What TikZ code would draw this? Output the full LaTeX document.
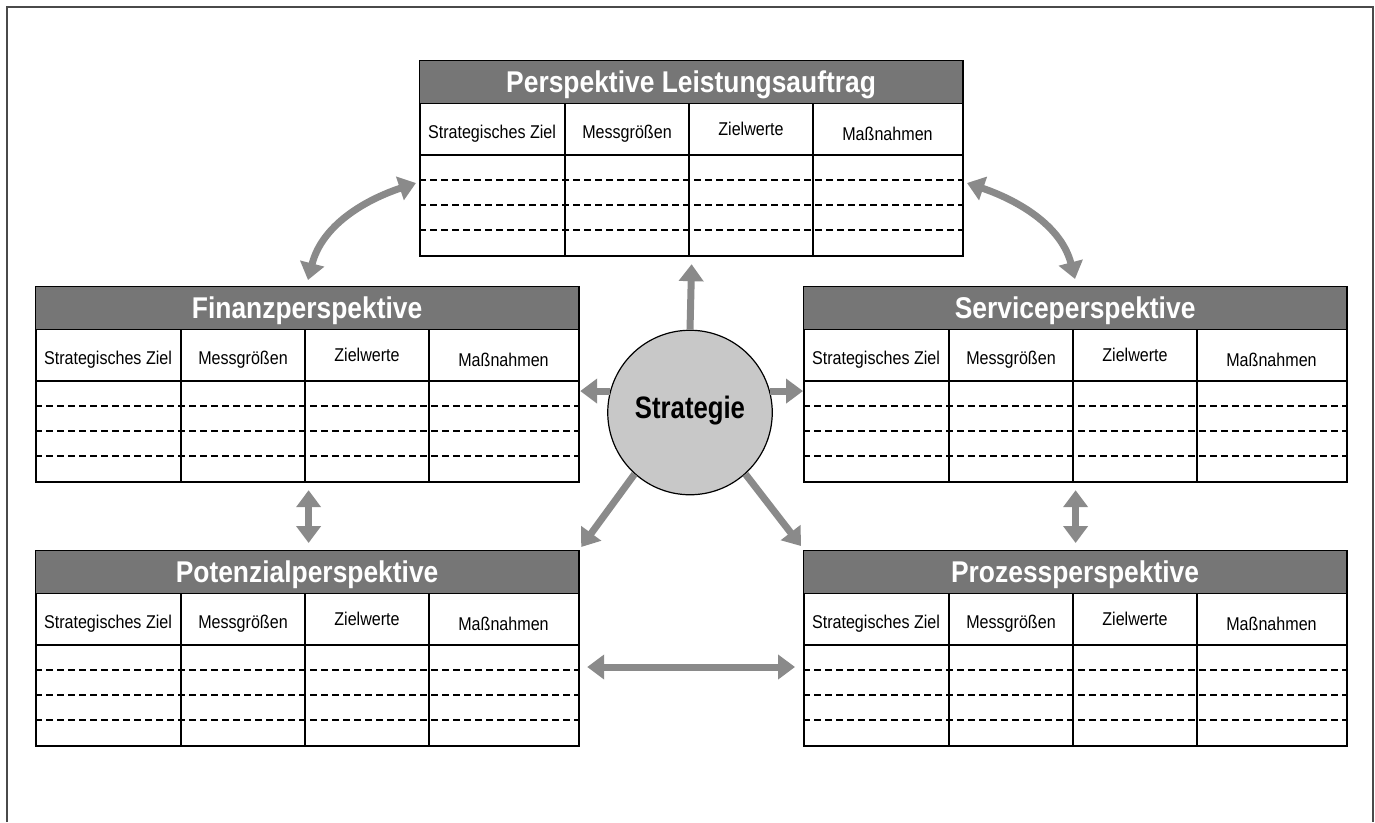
\documentclass[tikz,border=0pt]{standalone}
\usepackage{fontspec}
\setmainfont{Liberation Sans}
\newfontfamily\cellfont[FakeStretch=0.87]{Liberation Sans}
\newfontfamily\headfont[FakeStretch=0.88]{Liberation Sans}
\newfontfamily\stratfont[FakeStretch=0.83]{Liberation Sans}
\usetikzlibrary{arrows.meta,positioning,calc}
\definecolor{Bar}{HTML}{767676}
\definecolor{ArrowGray}{HTML}{8A8A8A}
\definecolor{Disc}{HTML}{C8C8C8}
\definecolor{FrameGray}{HTML}{4A4A4A}
\tikzset{
  tabframe/.style={draw=black,line width=2.2pt,minimum width=543pt,minimum height=195pt,inner sep=0pt},
  tabhead/.style={draw=black,line width=1.2pt,fill=Bar,minimum width=543pt,minimum height=43pt,inner sep=0pt,
    text=white,text depth=0pt,font=\headfont\bfseries\fontsize{30}{32}\selectfont},
  cell/.style={inner sep=0pt,text depth=0pt,text height=13.5pt,font=\cellfont\fontsize{18.5}{20}\selectfont},
  rowsep/.style={line width=1.6pt},
  rowdash/.style={line width=1.6pt,dash pattern=on 7pt off 4pt},
  colsep/.style={line width=2pt},
  arr/.style={-{Triangle[length=17pt,width=24pt]},line width=7pt,draw=ArrowGray},
  dblarr/.style={{Triangle[length=17pt,width=24pt]}-{Triangle[length=17pt,width=24pt]},line width=7pt,draw=ArrowGray},
  strat/.style={circle,draw=black,line width=1.2pt,fill=Disc,minimum size=164.5pt,inner sep=0pt,
    text depth=9.6pt,font=\stratfont\bfseries\fontsize{31}{33}\selectfont},
  frame/.style={draw=FrameGray,line width=2pt}
}
% one perspective table: name, x, y (top left), title
\newcommand{\bsctab}[4]{%
  \node[tabframe,anchor=north west] (#1) at (#2,#3) {};
  \node[tabhead,anchor=north west] (#1-head) at (#1.north west) {#4};
  \foreach \dx in {146,270,394}
    \draw[colsep] ($(#1.north west)+(\dx,43)$) -- ($(#1.north west)+(\dx,195)$);
  \draw[rowsep] ($(#1.north west)+(0,95)$) -- ($(#1.north east)+(0,95)$);
  \foreach \dy in {120,145,170}
    \draw[rowdash] ($(#1.north west)+(0,\dy)$) -- ($(#1.north east)+(0,\dy)$);
  \node[cell] (#1-ziel) at ($(#1.north west)+(73,72)$) {Strategisches Ziel};
  \node[cell] (#1-mess) at ($(#1.north west)+(208,72)$) {Messgrößen};
  \node[cell] (#1-wert) at ($(#1.north west)+(332,69)$) {Zielwerte};
  \node[cell] (#1-mass) at ($(#1.north west)+(468.5,74)$) {Maßnahmen};
}

\begin{document}
\begin{tikzpicture}[x=1pt,y=-1pt]
  \useasboundingbox (0,0) rectangle (1375,822);
  \draw[frame] (7,822) -- (7,7) -- (1373,7) -- (1373,822);

  \bsctab{top}{419}{60}{Perspektive Leistungsauftrag}
  \bsctab{fin}{35}{286}{Finanzperspektive}
  \bsctab{srv}{803}{286}{Serviceperspektive}
  \bsctab{pot}{35}{550}{Potenzialperspektive}
  \bsctab{pro}{803}{550}{Prozessperspektive}

  \node[strat] (str) at (690,412.5) {Strategie};

  % arrows out of the strategy
  \coordinate (upTip) at ($(top.south)+(0,7)$);
  \draw[arr] (str.north) -- (upTip);
  \draw[arr] (str.165) -- (str.165 -| fin.east);
  \draw[arr] (str.15) -- (str.15 -| srv.west);
  \draw[arr] (str.228) -- ($(pot.north east)+(1,-3)$);
  \draw[arr] (str.312) -- ($(pro.north west)+(-2,-4)$);

  % links between perspectives
  \draw[dblarr] ($(fin.south)+(1,7)$) -- ($(pot.north)+(1,-7)$);
  \draw[dblarr] ($(srv.south)+(0,7)$) -- ($(pro.north)+(0,-7)$);
  \coordinate (potR) at ($(pot.north east)+(7,117)$);
  \coordinate (proL) at ($(pro.north west)+(-8,117)$);
  \draw[dblarr] (potR) -- (proL);
  \coordinate (finTip) at (308,280);
  \coordinate (topTipL) at (416,183);
  \draw[dblarr] (finTip) .. controls (322,225) and (365,200) .. (topTipL);
  \coordinate (srvTip) at (1075,279);
  \coordinate (topTipR) at (967,183);
  \draw[dblarr] (srvTip) .. controls (1061,225) and (1017,200) .. (topTipR);
\end{tikzpicture}
\end{document}
